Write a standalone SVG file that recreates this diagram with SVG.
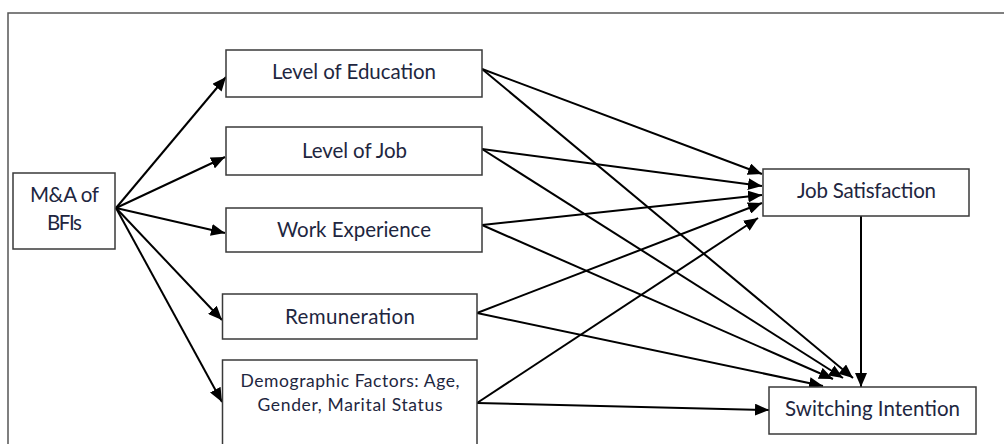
<svg xmlns="http://www.w3.org/2000/svg" width="1004" height="444" viewBox="0 0 1004 444">
  <style>
    .box { fill: #ffffff; stroke: #3a3a3a; stroke-width: 1.5; }
    .frame { fill: none; stroke: #555555; stroke-width: 1.5; }
    .lbl { font-family: Lato, "Liberation Sans", sans-serif; fill: #1e2640; text-anchor: middle; }
    .big { font-size: 20.5px; }
    .small { font-size: 17.5px; }
    .edge { stroke: #000000; stroke-width: 2; fill: none; marker-end: url(#arrow); }
  </style>
  <defs>
    <marker id="arrow" markerUnits="userSpaceOnUse" markerWidth="14" markerHeight="12" viewBox="0 0 14 12" refX="14" refY="6" orient="auto">
      <path d="M0,0 L14,6 L0,12 Z" fill="#000000"/>
    </marker>
  </defs>

  <rect width="1004" height="444" fill="#ffffff"/>
  <rect class="frame" x="8" y="13" width="1010" height="450"/>

  <g id="connectors">
    <!-- from M&A of BFIs -->
    <line class="edge" x1="116" y1="208" x2="226" y2="77"/>
    <line class="edge" x1="116" y1="208" x2="225" y2="157"/>
    <line class="edge" x1="116" y1="208" x2="225" y2="233"/>
    <line class="edge" x1="116" y1="208" x2="222" y2="320"/>
    <line class="edge" x1="116" y1="208" x2="222" y2="402"/>
    <!-- into Job Satisfaction -->
    <line class="edge" x1="482" y1="69" x2="762" y2="174"/>
    <line class="edge" x1="482" y1="149" x2="762" y2="186"/>
    <line class="edge" x1="482" y1="225" x2="762" y2="195"/>
    <line class="edge" x1="477" y1="313" x2="762" y2="203"/>
    <line class="edge" x1="477" y1="403" x2="758" y2="218"/>
    <!-- into Switching Intention -->
    <line class="edge" x1="482" y1="69" x2="853" y2="378"/>
    <line class="edge" x1="482" y1="149" x2="843" y2="378"/>
    <line class="edge" x1="482" y1="225" x2="833" y2="379"/>
    <line class="edge" x1="477" y1="313" x2="823" y2="386"/>
    <line class="edge" x1="477" y1="403" x2="769" y2="410"/>
    <line class="edge" x1="861" y1="216" x2="861" y2="387"/>
  </g>

  <g id="node-ma">
    <rect class="box" x="13" y="173" width="102" height="76"/>
    <text class="lbl big" x="64.5" y="202" textLength="69">M&amp;A of</text>
    <text class="lbl big" x="64.5" y="230" textLength="35">BFIs</text>
  </g>
  <g id="node-education">
    <rect class="box" x="226" y="50" width="256" height="47"/>
    <text class="lbl big" x="354" y="79" textLength="164">Level of Education</text>
  </g>
  <g id="node-job-level">
    <rect class="box" x="226" y="127" width="256" height="48"/>
    <text class="lbl big" x="354.5" y="158" textLength="105">Level of Job</text>
  </g>
  <g id="node-experience">
    <rect class="box" x="226" y="208" width="256" height="44"/>
    <text class="lbl big" x="354" y="237" textLength="154">Work Experience</text>
  </g>
  <g id="node-remuneration">
    <rect class="box" x="222.5" y="294" width="254.5" height="45"/>
    <text class="lbl big" x="350" y="324" textLength="130">Remuneration</text>
  </g>
  <g id="node-demographic">
    <rect class="box" x="222.5" y="360" width="254.5" height="100"/>
    <text class="lbl small" x="350" y="387" textLength="219">Demographic Factors: Age,</text>
    <text class="lbl small" x="350" y="411" textLength="185">Gender, Marital Status</text>
  </g>
  <g id="node-satisfaction">
    <rect class="box" x="763" y="169" width="206" height="47"/>
    <text class="lbl big" x="866.5" y="198" textLength="139">Job Satisfaction</text>
  </g>
  <g id="node-switching">
    <rect class="box" x="769" y="387" width="207" height="47"/>
    <text class="lbl big" x="872.5" y="416" textLength="175">Switching Intention</text>
  </g>
</svg>
